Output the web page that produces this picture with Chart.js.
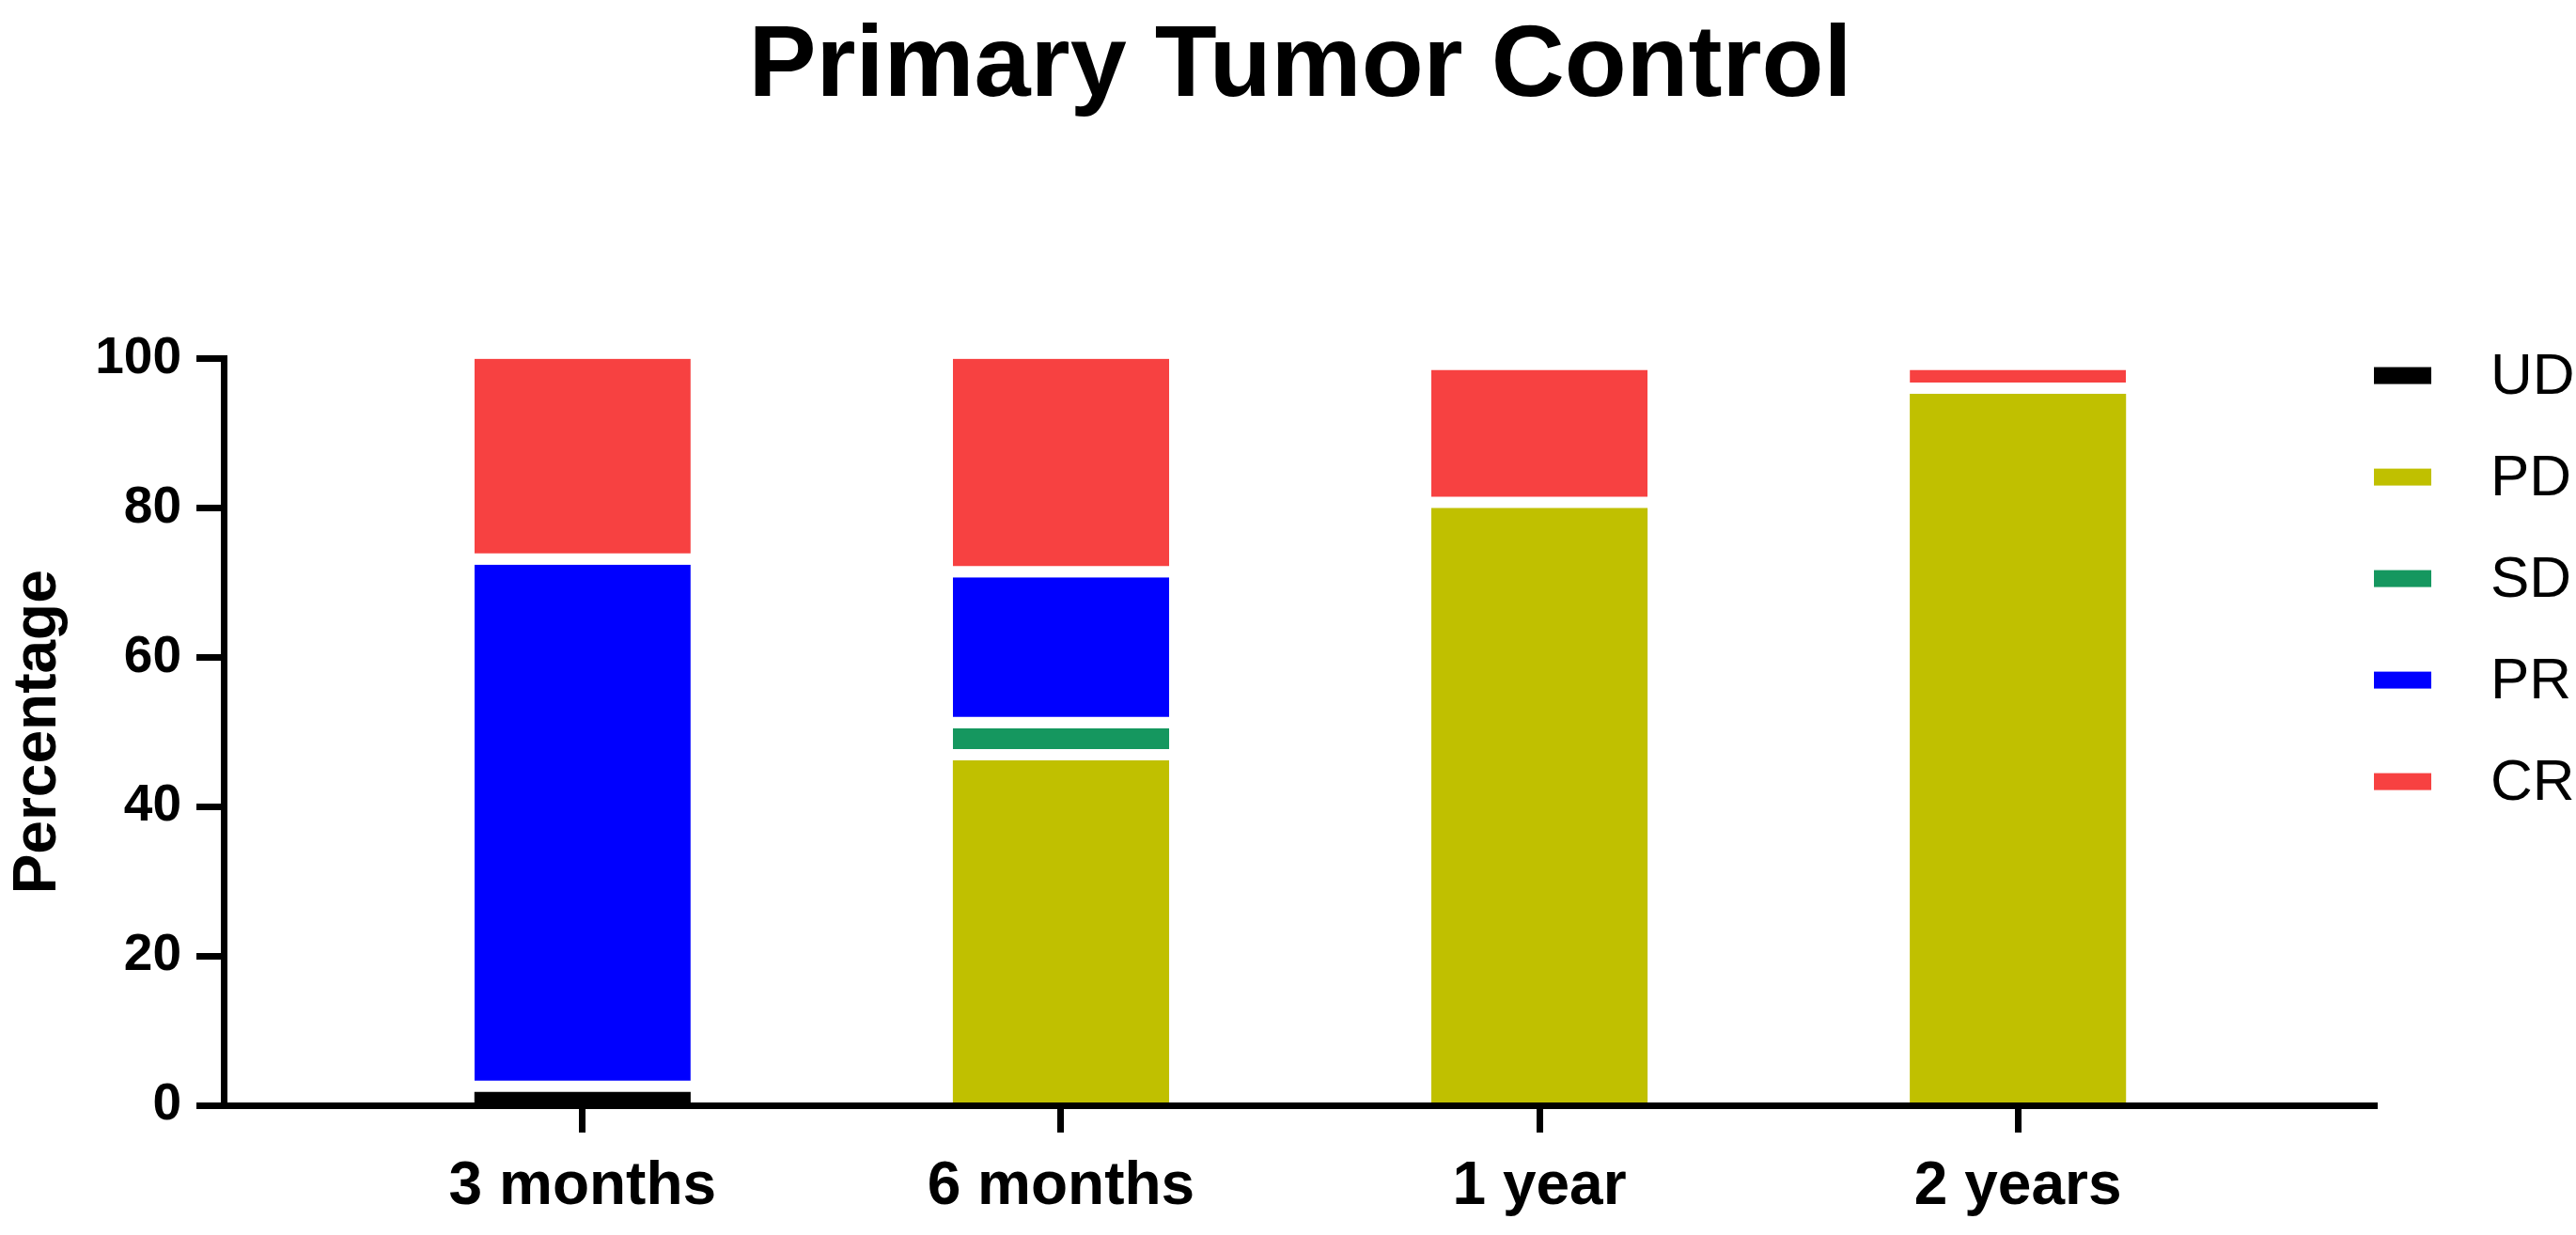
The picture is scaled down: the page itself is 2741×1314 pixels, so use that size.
<!DOCTYPE html>
<html>
<head>
<meta charset="utf-8">
<script src="https://cdn.jsdelivr.net/npm/chart.js@4"></script>
<style>
  html, body { margin: 0; padding: 0; background: #fff; }
  #wrap { width: 2741px; height: 1314px; }
</style>
</head>
<body>
<div id="wrap"><canvas id="tumorChart"></canvas></div>
<script>
Chart.defaults.font.family = "'Liberation Sans', Arial, sans-serif";
Chart.defaults.color = '#000';

const categories = ['3 months', '6 months', '1 year', '2 years'];
const ud = [1.8, 0, 0, 0];
const pd = [0, 46.2, 80.0, 95.3];
const sd = [0, 4.3, 0, 0];
const pr = [70.6, 20.2, 0, 0];
const cr = [27.6, 29.3, 18.5, 3.2];

const COLORS = {
  ud: '#000000',
  pd: '#c0c000',
  sd: '#15975f',
  pr: '#0000ff',
  cr: '#f74141',
};

const series = [ud, pd, sd, pr, cr];

// white gap between stacked segments, but not under the lowest one
function gapBelow(ctx) {
  if (ctx.type !== 'data') return 0;
  const i = ctx.dataIndex;
  const below = series.slice(0, ctx.datasetIndex).some(s => s[i] > 0);
  return { top: 0, left: 0, right: 0, bottom: below ? 12 : 0 };
}

function makeSet(label, values, color) {
  return {
    label,
    data: values.map((v, i) => ({ x: i, y: v })),
    backgroundColor: color,
    borderColor: '#ffffff',
    borderWidth: gapBelow,
    borderSkipped: false,
    barPercentage: 0.452,
    categoryPercentage: 1,
  };
}

const sideLegend = {
  id: 'sideLegend',
  afterDraw(chart) {
    const { ctx, chartArea } = chart;
    ctx.save();
    ctx.font = "62px 'Liberation Sans', Arial, sans-serif";
    ctx.textBaseline = 'middle';
    ctx.textAlign = 'left';
    chart.data.datasets.forEach((ds, i) => {
      const y = chartArea.top + 18 + i * 108;
      ctx.fillStyle = ds.backgroundColor;
      ctx.fillRect(chartArea.right - 3, y - 9, 61, 18);
      ctx.fillStyle = '#000';
      ctx.fillText(ds.label, chartArea.right + 121, y + 2);
    });
    ctx.restore();
  }
};

new Chart(document.getElementById('tumorChart'), {
  type: 'bar',
  data: {
    datasets: [
      makeSet('UD', ud, COLORS.ud),
      makeSet('PD', pd, COLORS.pd),
      makeSet('SD', sd, COLORS.sd),
      makeSet('PR', pr, COLORS.pr),
      makeSet('CR', cr, COLORS.cr),
    ]
  },
  options: {
    responsive: true, maintainAspectRatio: false,
    devicePixelRatio: 1,
    animation: false,
    layout: { padding: { left: 0, right: 212, top: 0, bottom: 0 } },
    plugins: {
      legend: { display: false },
      tooltip: { enabled: false },
      title: {
        display: true,
        text: 'Primary Tumor Control',
        fullSize: false,
        color: '#000',
        font: { size: 108, weight: 'bold' },
        padding: { top: 7, bottom: 245 },
      },
    },
    scales: {
      x: {
        type: 'linear',
        stacked: true,
        offset: false,
        min: -0.75,
        max: 3.75,
        afterBuildTicks: axis => { axis.ticks = categories.map((_, i) => ({ value: i })); },
        afterFit: scale => { scale.height = 138; },
        grid: { offset: false, drawOnChartArea: false, color: '#000', tickLength: 29, tickWidth: 7 },
        border: { display: true, color: '#000', width: 7, z: 1 },
        ticks: {
          autoSkip: false, maxRotation: 0, padding: 20,
          color: '#000',
          font: { size: 64, weight: 'bold' },
          callback: v => categories[v],
        },
      },
      y: {
        stacked: true,
        min: 0,
        max: 100,
        afterFit: scale => { scale.width = 238; },
        grid: { drawOnChartArea: false, color: '#000', tickLength: 29, tickWidth: 7 },
        border: { display: true, color: '#000', width: 7, z: 1 },
        ticks: {
          stepSize: 20, padding: 16,
          color: '#000',
          font: { size: 55, weight: 'bold' },
        },
        title: {
          display: true,
          text: 'Percentage',
          color: '#000',
          font: { size: 64, weight: 'bold' },
          padding: { top: 3, bottom: 0 },
        },
      },
    },
  },
  plugins: [sideLegend],
});
</script>
</body>
</html>
